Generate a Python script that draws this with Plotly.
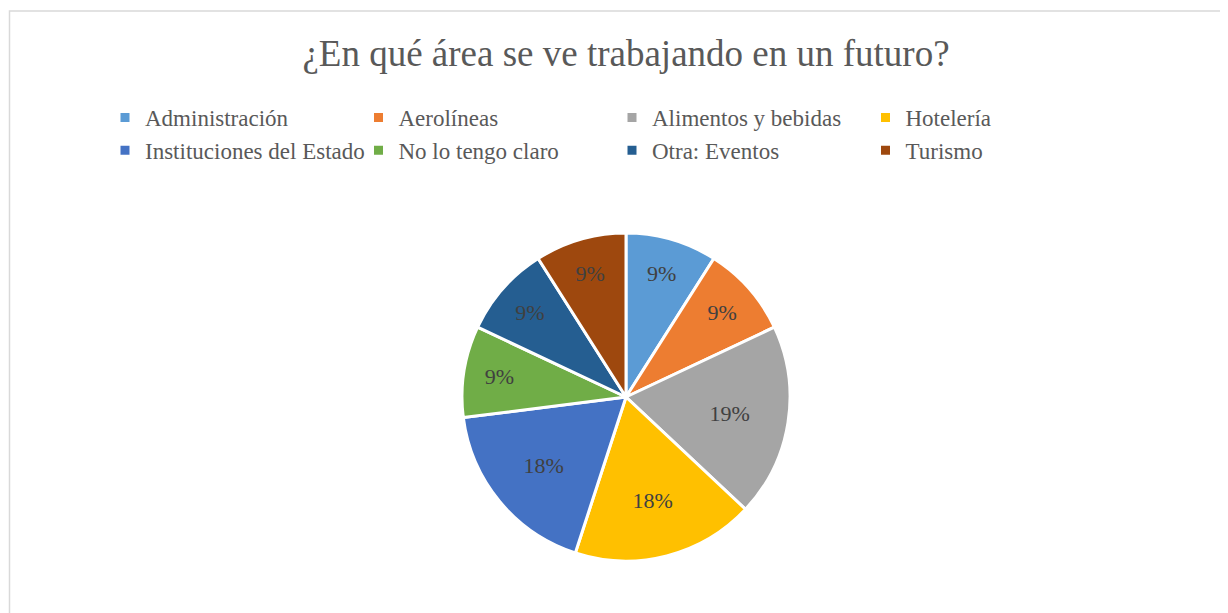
import plotly.graph_objects as go

categories = ["Administración", "Aerolíneas", "Alimentos y bebidas", "Hotelería",
              "Instituciones del Estado", "No lo tengo claro", "Otra: Eventos", "Turismo"]
values = [9, 9, 19, 18, 18, 9, 9, 9]
colors = ["#5B9BD5", "#ED7D31", "#A5A5A5", "#FFC000",
          "#4472C4", "#70AD47", "#255E91", "#9E480E"]
title_text = "¿En qué área se ve trabajando en un futuro?"

W, H = 1228, 613
OFF = 8  # page body margin
cx, cy, r = 626 - OFF, 397 - OFF, 164

fig = go.Figure(go.Pie(
    labels=categories,
    values=values,
    sort=False,
    direction="clockwise",
    rotation=0,
    marker=dict(colors=colors, line=dict(color="white", width=3)),
    texttemplate="%{percent:.0%}",
    textposition="inside",
    insidetextorientation="horizontal",
    textfont=dict(family="Liberation Serif", size=22, color="#404040"),
    hoverinfo="label+percent",
    domain=dict(x=[(cx - r) / W, (cx + r) / W], y=[1 - (cy + r) / H, 1 - (cy - r) / H]),
))

fig.update_layout(
    width=W, height=H,
    margin=dict(l=0, r=0, t=0, b=0),
    paper_bgcolor="white",
    font=dict(family="Liberation Serif", color="#595959"),
    title=dict(text=title_text, x=cx / W, xanchor="center", y=1 - 45 / H, yanchor="middle",
               xref="paper", yref="paper",
               font=dict(family="Liberation Serif", size=37, color="#595959")),
    legend=dict(orientation="h", x=97 / W, xanchor="left", y=1 - 88 / H, yanchor="top",
                font=dict(family="Liberation Serif", size=23, color="#595959"),
                entrywidth=208.5, entrywidthmode="pixels", itemwidth=30,
                bgcolor="rgba(0,0,0,0)"),
    shapes=[dict(type="rect", xref="paper", yref="paper",
                 x0=1.5 / W, x1=1.2, y0=-0.2, y1=1 - 3 / H,
                 line=dict(color="#D9D9D9", width=1.5), fillcolor="rgba(0,0,0,0)")],
)

fig.write_html("out.html")
